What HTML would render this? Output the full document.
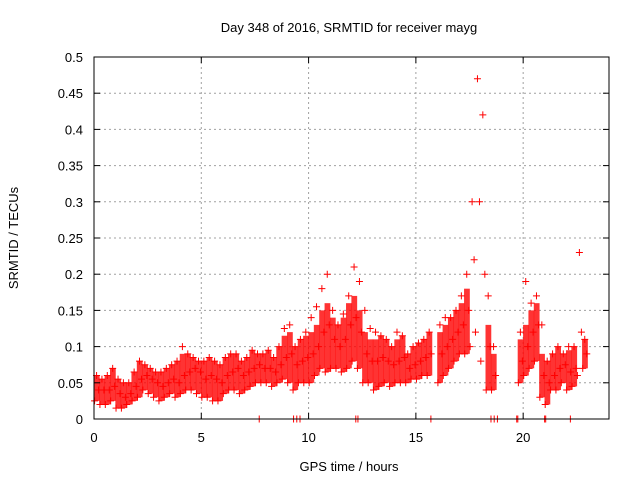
<!DOCTYPE html>
<html><head><meta charset="utf-8"><style>
body{margin:0;background:#fff}
svg{display:block;font-family:"Liberation Sans",sans-serif}
</style></head><body>
<svg id="c" width="640" height="480">
<rect width="640" height="480" fill="#fff"/>
<text x="349" y="32" font-size="13" text-anchor="middle">Day 348 of 2016, SRMTID for receiver mayg</text>
<text x="349" y="471" font-size="13" text-anchor="middle">GPS time / hours</text>
<text transform="translate(18,238) rotate(-90)" font-size="13" text-anchor="middle">SRMTID / TECUs</text>
<g id="grid"></g><g id="marks"></g><g id="axes"></g>
</svg>
<script>
const xTicks=[0,5,10,15,20];
const yTicks=[0,0.05,0.1,0.15,0.2,0.25,0.3,0.35,0.4,0.45,0.5];
const yTickLabels=["0","0.05","0.1","0.15","0.2","0.25","0.3","0.35","0.4","0.45","0.5"];
const binStep=0.25;
const lo=[.025,.02,.02,.025,.015,.015,.02,.025,.03,.04,.035,.03,.025,.03,.035,.03,.035,.04,.04,.035,.03,.03,.025,.025,.035,.04,.04,.035,.04,.045,.05,.05,.05,.045,.05,.055,.05,.04,.05,.05,.05,.06,.07,.065,.07,.07,.065,.07,.08,.07,.05,.05,.04,.045,.05,.045,.05,.05,.05,.055,.055,.06,.06,null,.05,.06,.07,.08,.09,.09,.1,.12,.08,.04,.04,null,null,null,null,.05,.06,.07,.08,.03,.02,.04,.04,.05,.04,.045,.06,.07];
const mid=[.04,.04,.04,.045,.035,.03,.035,.045,.055,.06,.055,.05,.045,.05,.055,.05,.06,.065,.07,.065,.055,.06,.055,.05,.06,.065,.07,.06,.065,.07,.075,.07,.07,.065,.075,.085,.09,.075,.08,.085,.09,.1,.12,.13,.11,.1,.11,.13,.14,.12,.09,.08,.08,.085,.08,.075,.08,.085,.07,.075,.08,.085,.09,null,.09,.1,.11,.12,.13,.15,.22,.3,.2,.1,.06,null,null,null,null,.08,.1,.12,.13,.06,.05,.06,.07,.075,.065,.07,.12,.09];
const hi=[.06,.055,.06,.07,.055,.05,.05,.065,.08,.075,.07,.065,.065,.07,.075,.08,.1,.09,.085,.08,.08,.085,.08,.075,.085,.09,.09,.08,.085,.095,.09,.09,.095,.085,.1,.125,.13,.1,.11,.12,.14,.155,.18,.2,.15,.13,.145,.17,.21,.19,.15,.125,.12,.115,.11,.1,.12,.115,.09,.1,.105,.11,.12,null,.13,.14,.14,.15,.17,.2,.3,.47,.42,.17,.1,null,null,null,null,.12,.19,.16,.17,.13,.08,.09,.1,.09,.1,.1,.23,.11];
const zeroTimes=[7.7,9.3,9.45,9.6,12.2,12.3,15.7,18.5,18.65,18.8,19.7,19.75,21.0,21.05,22.2];
const X0=94,X1=609,Y0=419,Y1=57;
const sx=t=>X0+t/24*(X1-X0);
const sy=v=>Y0-v/0.5*(Y0-Y1);
const NS="http://www.w3.org/2000/svg";
function mk(tag,at,parent){const e=document.createElementNS(NS,tag);for(const k in at)e.setAttribute(k,at[k]);parent.appendChild(e);return e;}
const grid=document.getElementById('grid'),marks=document.getElementById('marks'),axes=document.getElementById('axes');
yTicks.forEach((v,i)=>{const y=sy(v);
 if(i>0&&i<yTicks.length-1){const g=mk('line',{x1:X0,x2:X1,y1:y,y2:y,stroke:'#a0a0a0','stroke-dasharray':'2,3'},grid);
 
 }
 mk('line',{x1:X0,x2:X0+6,y1:y,y2:y,stroke:'#000'},axes);
 mk('line',{x1:X1,x2:X1-6,y1:y,y2:y,stroke:'#000'},axes);
 const t=mk('text',{x:83,y:y+5,'font-size':13,'text-anchor':'end'},axes);t.textContent=yTickLabels[i];
 
 
});
xTicks.forEach(v=>{const x=sx(v);
 if(v>0){const g=mk('line',{x1:x,x2:x,y1:Y1,y2:Y0,stroke:'#a0a0a0','stroke-dasharray':'2,3'},grid);
 
 }
 mk('line',{x1:x,x2:x,y1:Y0,y2:Y0-6,stroke:'#000'},axes);
 mk('line',{x1:x,x2:x,y1:Y1,y2:Y1+6,stroke:'#000'},axes);
 const t=mk('text',{x:x,y:442,'font-size':13,'text-anchor':'middle'},axes);t.textContent=String(v);
 
 
});
const fr=mk('rect',{x:X0,y:Y1,width:X1-X0,height:Y0-Y1,fill:'none',stroke:'#000'},axes);


function cross(x,y){const p=mk('path',{d:`M${x-3.5},${y}h7M${x},${y-3.5}v7`,stroke:'#f00','stroke-width':1},marks);
 
 }
const bw=sx(binStep)-sx(0);
lo.forEach((l,i)=>{if(l===null)return;const x=sx(i*binStep+0.12);
 const spread=hi[i]-l;
 if(spread<=0.15){
  const top=Math.min(hi[i],mid[i]+0.03);
  const b=mk('rect',{x:x-bw/2,width:bw+0.4,y:sy(top),height:sy(l)-sy(top),fill:'#f00',opacity:0.8},marks);
  
  
 }
 cross(x-2,sy(l));cross(x+2,sy(mid[i]));cross(x,sy(hi[i]));
});
zeroTimes.forEach(t=>cross(sx(t),sy(0)));
</script>
</body></html>
